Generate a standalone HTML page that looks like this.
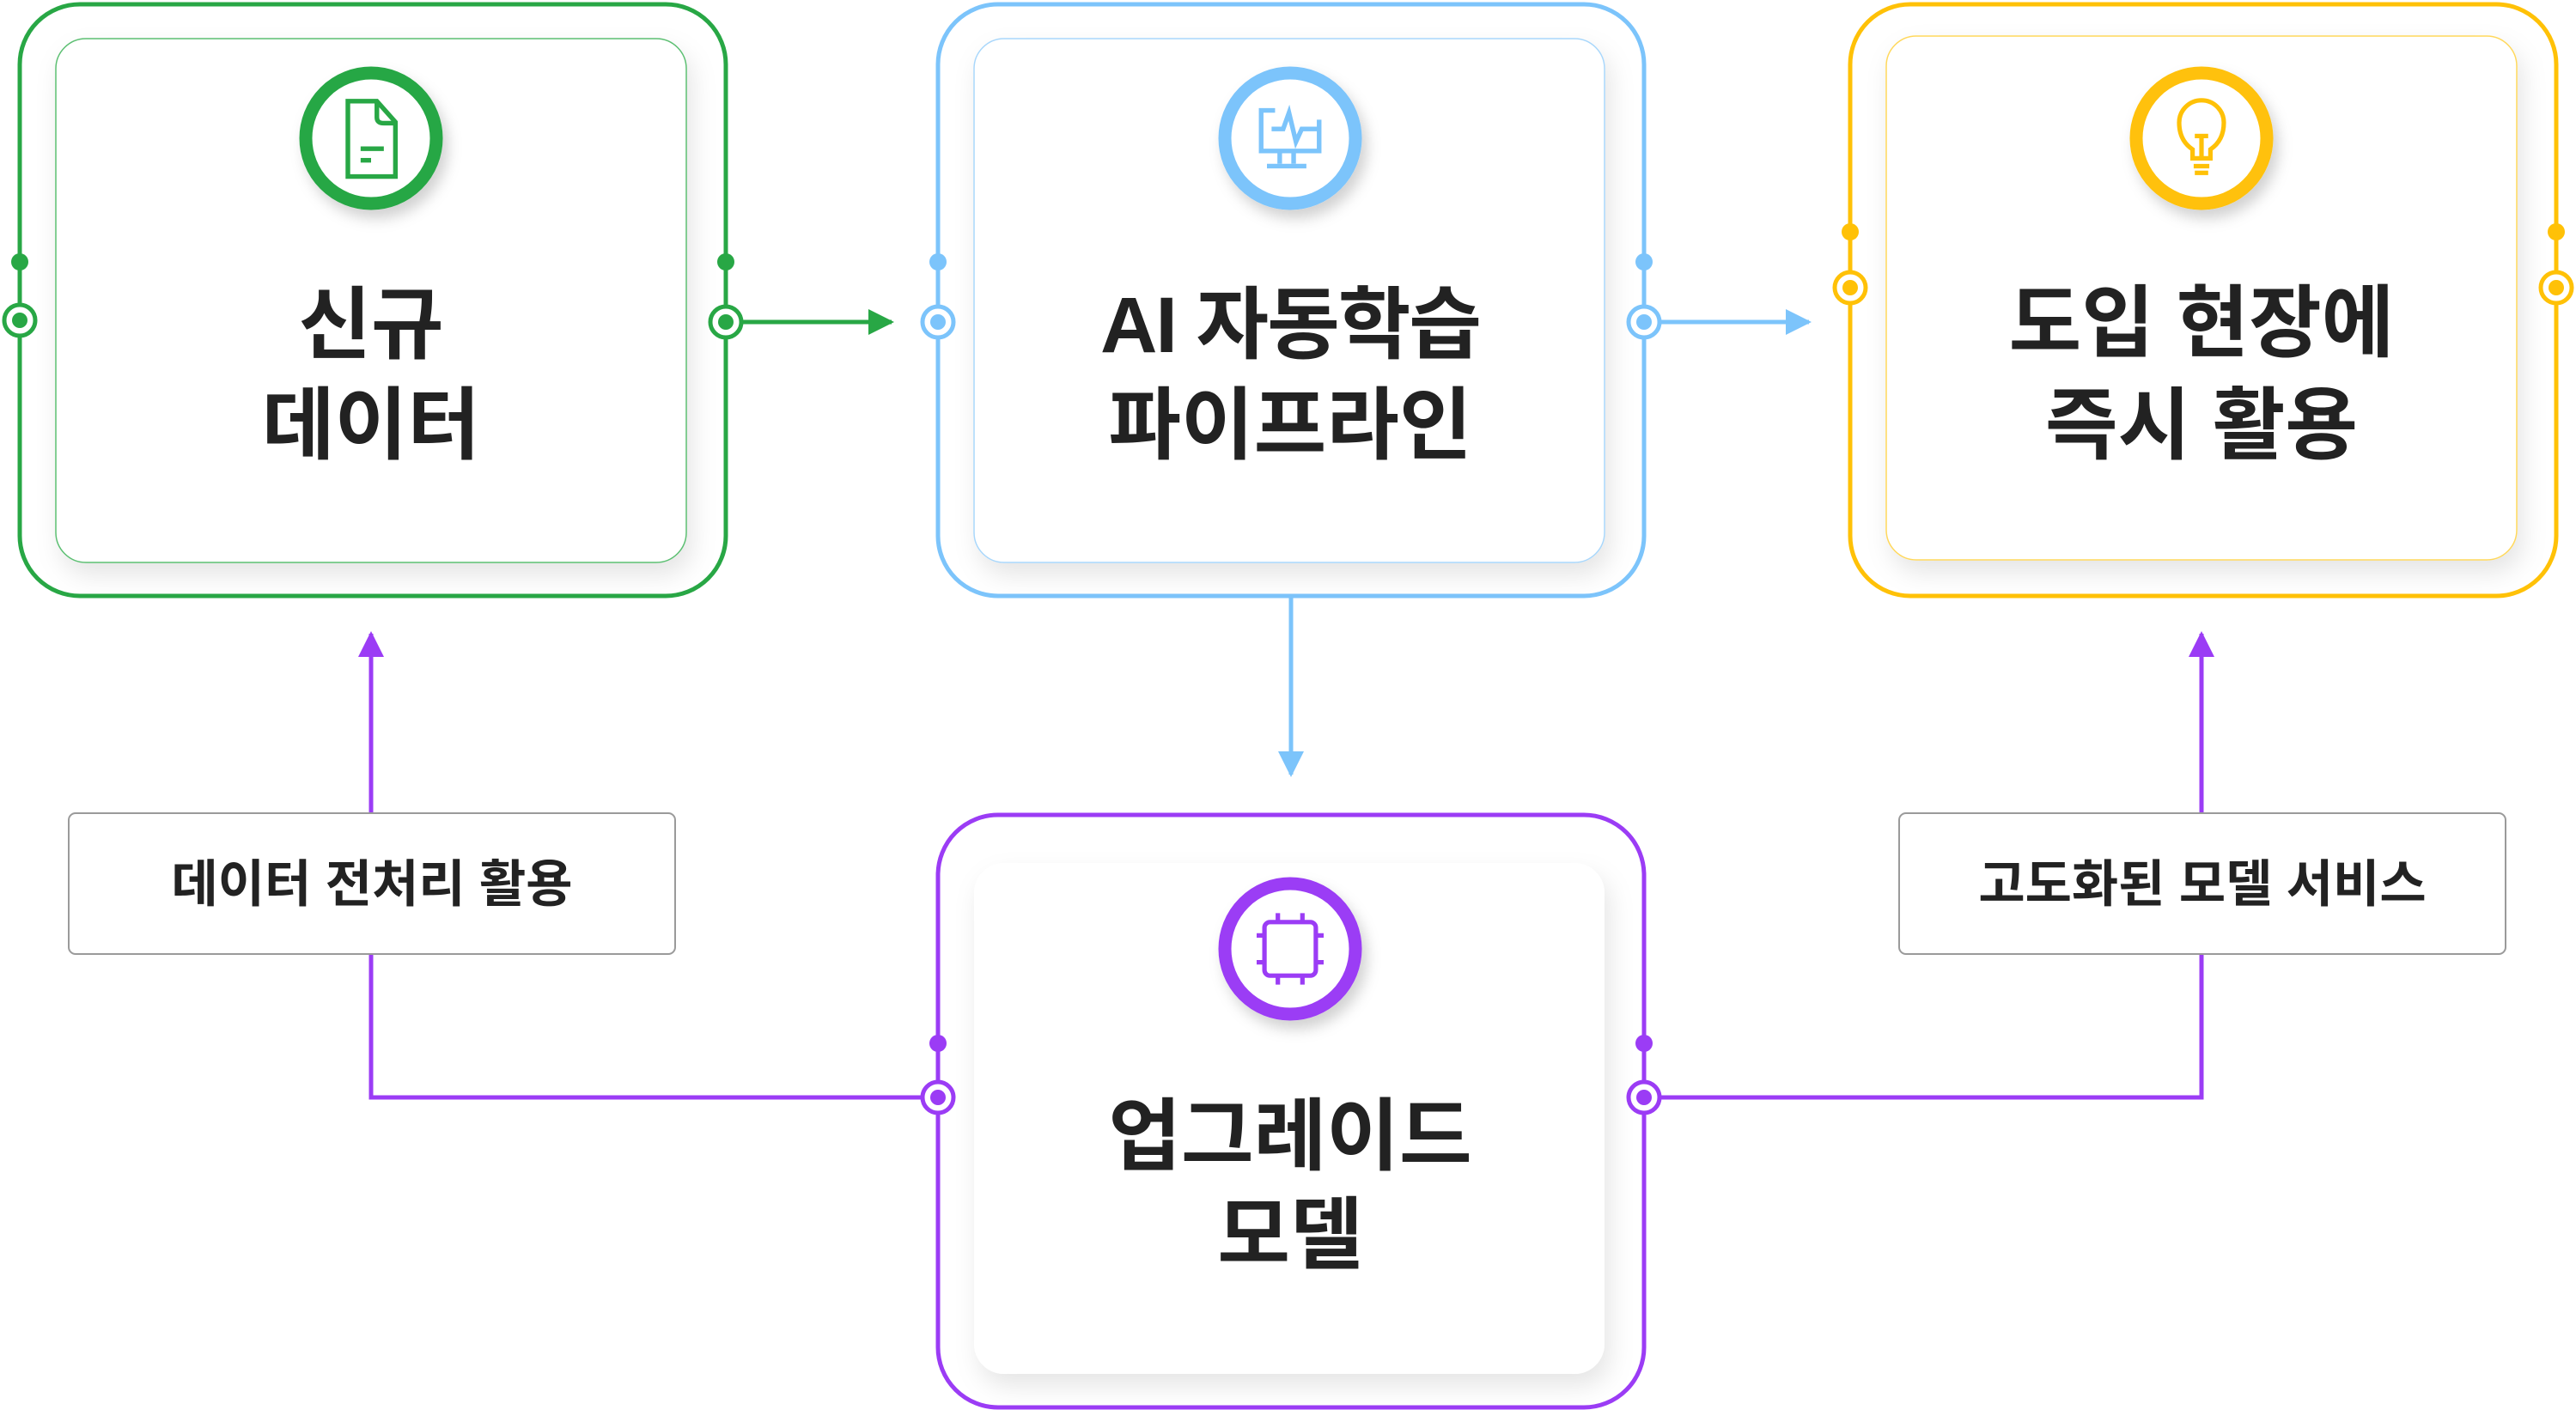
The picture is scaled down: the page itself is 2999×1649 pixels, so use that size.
<!DOCTYPE html>
<html><head><meta charset="utf-8"><style>
html,body{margin:0;padding:0;background:#fff;}
svg{display:block;}
text{font-family:"Liberation Sans","Noto Sans CJK KR",sans-serif;font-weight:bold;fill:#222;}
</style></head><body>
<svg width="2999" height="1649" viewBox="0 0 2999 1649" xmlns="http://www.w3.org/2000/svg">
<defs>
<filter id="sh" x="-20%" y="-20%" width="140%" height="140%"><feDropShadow dx="6" dy="14" stdDeviation="14" flood-color="#000" flood-opacity="0.10"/></filter>
<filter id="ish" x="-30%" y="-30%" width="160%" height="160%"><feDropShadow dx="6" dy="10" stdDeviation="8" flood-color="#000" flood-opacity="0.18"/></filter>
<marker id="ag" viewBox="0 0 10 10" refX="9" refY="5" markerWidth="6" markerHeight="6" orient="auto"><path d="M0,0L10,5L0,10z" fill="#28a745"/></marker>
<marker id="ab" viewBox="0 0 10 10" refX="9" refY="5" markerWidth="6" markerHeight="6" orient="auto"><path d="M0,0L10,5L0,10z" fill="#7cc4fb"/></marker>
<marker id="ap" viewBox="0 0 10 10" refX="9" refY="5" markerWidth="6" markerHeight="6" orient="auto"><path d="M0,0L10,5L0,10z" fill="#9b3cf5"/></marker>
</defs>

<line x1="860" y1="375" x2="1038" y2="375" stroke="#28a745" stroke-width="5" marker-end="url(#ag)"/>
<line x1="1930" y1="375" x2="2106" y2="375" stroke="#7cc4fb" stroke-width="5" marker-end="url(#ab)"/>
<line x1="1503" y1="694" x2="1503" y2="902" stroke="#7cc4fb" stroke-width="5" marker-end="url(#ab)"/>
<polyline points="1080,1278 432,1278 432,738" fill="none" stroke="#9b3cf5" stroke-width="5" marker-end="url(#ap)"/>
<polyline points="1926,1278 2563,1278 2563,738" fill="none" stroke="#9b3cf5" stroke-width="5" marker-end="url(#ap)"/>

<rect x="23" y="5" width="822" height="689" rx="70" fill="#fff" stroke="#28a745" stroke-width="5"/>
<rect x="65" y="45" width="734" height="610" rx="35" fill="#fff" stroke="#5cbf72" stroke-width="1.5" filter="url(#sh)"/>
<circle cx="432" cy="161" r="76" fill="#fff" stroke="#28a745" stroke-width="15" filter="url(#ish)"/>
<g fill="none" stroke="#28a745" stroke-width="4" transform="translate(432,161) scale(1.35) translate(-430,-163)"><path d="M410,131h25l16,18v47h-41z"/><path d="M435,131v14q0,5 6,5h10"/><line x1="421" y1="172" x2="441" y2="172"/><line x1="421" y1="182" x2="430" y2="182"/></g>
<text x="432" y="410" font-size="92" text-anchor="middle">신규</text>
<text x="432" y="527" font-size="92" text-anchor="middle">데이터</text>

<rect x="1092" y="5" width="822" height="689" rx="70" fill="#fff" stroke="#7cc4fb" stroke-width="5"/>
<rect x="1134" y="45" width="734" height="610" rx="35" fill="#fff" stroke="#a9d7fb" stroke-width="1.5" filter="url(#sh)"/>
<circle cx="1502" cy="161" r="76" fill="#fff" stroke="#7cc4fb" stroke-width="15" filter="url(#ish)"/>
<g fill="none" stroke="#7cc4fb" stroke-width="4" transform="translate(1502,161) scale(1.35) translate(-1505,-160)"><path d="M1480,145v-9h12M1480,145v26h50v-27"/><path d="M1489,152h10l5,-14l6,25l5,-11h14"/><line x1="1496" y1="171" x2="1496" y2="182"/><line x1="1508" y1="171" x2="1508" y2="182"/><line x1="1485" y1="184" x2="1519" y2="184"/></g>
<text x="1502" y="410" font-size="92" text-anchor="middle" letter-spacing="-2">AI 자동학습</text>
<text x="1502" y="527" font-size="92" text-anchor="middle">파이프라인</text>

<rect x="2154" y="5" width="822" height="689" rx="70" fill="#fff" stroke="#ffc107" stroke-width="5"/>
<rect x="2196" y="42" width="734" height="610" rx="35" fill="#fff" stroke="#ffd85c" stroke-width="1.5" filter="url(#sh)"/>
<circle cx="2563" cy="161" r="76" fill="#fff" stroke="#ffc107" stroke-width="15" filter="url(#ish)"/>
<g fill="none" stroke="#ffc107" stroke-width="4" transform="translate(2563,161) scale(1.3) translate(-2563,-167)"><path d="M2555,185v-8q-12,-8 -12,-24a20,20 0 0 1 40,0q0,16 -12,24v8z"/><line x1="2556" y1="192" x2="2570" y2="192"/><line x1="2557" y1="198" x2="2569" y2="198"/><line x1="2557" y1="165" x2="2569" y2="165"/><line x1="2563" y1="165" x2="2563" y2="185"/></g>
<text x="2563" y="408" font-size="92" text-anchor="middle">도입 현장에</text>
<text x="2563" y="527" font-size="92" text-anchor="middle">즉시 활용</text>

<rect x="1092" y="949" width="822" height="690" rx="70" fill="#fff" stroke="#9b3cf5" stroke-width="5"/>
<rect x="1134" y="1005" width="734" height="595" rx="35" fill="#fff" filter="url(#sh)"/>
<circle cx="1502" cy="1105" r="76" fill="#fff" stroke="#9b3cf5" stroke-width="15" filter="url(#ish)"/>
<g fill="none" stroke="#9b3cf5" stroke-width="4" transform="translate(1502,1105) scale(1.3) translate(-1501,-1105)"><rect x="1478" y="1081" width="46" height="48" rx="5"/><path d="M1490,1081v-8M1512,1081v-8M1490,1129v8M1512,1129v8M1478,1093h-7M1478,1117h-7M1524,1093h7M1524,1117h7"/></g>
<text x="1502" y="1355" font-size="92" text-anchor="middle">업그레이드</text>
<text x="1502" y="1470" font-size="92" text-anchor="middle">모델</text>

<rect x="80" y="947" width="706" height="164" rx="8" fill="#fff" stroke="#9a9a9a" stroke-width="2"/>
<text x="433" y="1050" font-size="59" text-anchor="middle">데이터 전처리 활용</text>
<rect x="2211" y="947" width="706" height="164" rx="8" fill="#fff" stroke="#9a9a9a" stroke-width="2"/>
<text x="2564" y="1050" font-size="59" text-anchor="middle">고도화된 모델 서비스</text>

<g stroke-width="5" fill="#fff">
<circle cx="23" cy="305" r="10" fill="#28a745" stroke="none"/><circle cx="23" cy="373" r="18" stroke="#28a745"/><circle cx="23" cy="373" r="9" fill="#28a745" stroke="none"/>
<circle cx="845" cy="305" r="10" fill="#28a745" stroke="none"/><circle cx="845" cy="375" r="18" stroke="#28a745"/><circle cx="845" cy="375" r="9" fill="#28a745" stroke="none"/>
<circle cx="1092" cy="305" r="10" fill="#7cc4fb" stroke="none"/><circle cx="1092" cy="375" r="18" stroke="#7cc4fb"/><circle cx="1092" cy="375" r="9" fill="#7cc4fb" stroke="none"/>
<circle cx="1914" cy="305" r="10" fill="#7cc4fb" stroke="none"/><circle cx="1914" cy="375" r="18" stroke="#7cc4fb"/><circle cx="1914" cy="375" r="9" fill="#7cc4fb" stroke="none"/>
<circle cx="2154" cy="270" r="10" fill="#ffc107" stroke="none"/><circle cx="2154" cy="335" r="18" stroke="#ffc107"/><circle cx="2154" cy="335" r="9" fill="#ffc107" stroke="none"/>
<circle cx="2976" cy="270" r="10" fill="#ffc107" stroke="none"/><circle cx="2976" cy="335" r="18" stroke="#ffc107"/><circle cx="2976" cy="335" r="9" fill="#ffc107" stroke="none"/>
<circle cx="1092" cy="1215" r="10" fill="#9b3cf5" stroke="none"/><circle cx="1092" cy="1278" r="18" stroke="#9b3cf5"/><circle cx="1092" cy="1278" r="9" fill="#9b3cf5" stroke="none"/>
<circle cx="1914" cy="1215" r="10" fill="#9b3cf5" stroke="none"/><circle cx="1914" cy="1278" r="18" stroke="#9b3cf5"/><circle cx="1914" cy="1278" r="9" fill="#9b3cf5" stroke="none"/>
</g>
</svg>
</body></html>
